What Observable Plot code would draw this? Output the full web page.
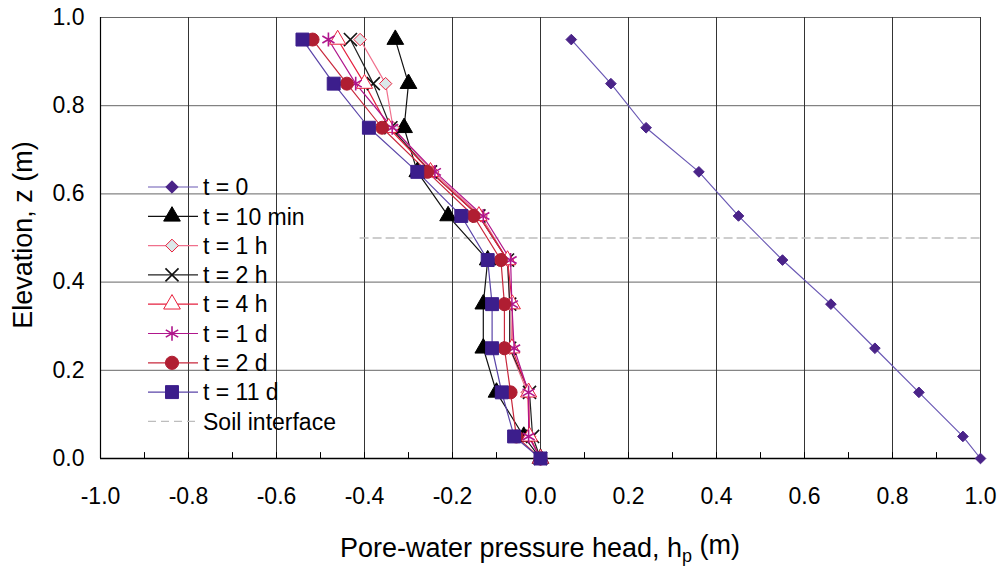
<!DOCTYPE html>
<html><head><meta charset="utf-8">
<script src="https://cdn.jsdelivr.net/npm/d3@7"></script>
<script src="https://cdn.jsdelivr.net/npm/@observablehq/plot@0.6"></script>
<style>body{margin:0;background:#fff} #chart{width:1000px;height:567px}</style>
</head><body><div id="chart"></div>
<script>
// ---- data ----
const elevation = [0.95, 0.85, 0.75, 0.65, 0.55, 0.45, 0.35, 0.25, 0.15, 0.05, 0.0];
const h_t0    = [0.07, 0.16, 0.24, 0.36, 0.45, 0.55, 0.66, 0.76, 0.86, 0.96, 1.0];
const h_10min = [-0.33, -0.30, -0.31, -0.28, -0.21, -0.12, -0.13, -0.13, -0.10, -0.038, 0];
const h_1h    = [-0.41, -0.352, -0.335, -0.245, -0.135, -0.075, -0.07, -0.07, -0.03, -0.025, 0];
const h_2h    = [-0.432, -0.38, -0.34, -0.25, -0.14, -0.075, -0.07, -0.07, -0.025, -0.018, 0];
const h_4h    = [-0.461, -0.40, -0.345, -0.25, -0.14, -0.075, -0.064, -0.065, -0.027, -0.025, 0];
const h_1d    = [-0.482, -0.42, -0.337, -0.24, -0.13, -0.068, -0.065, -0.06, -0.027, -0.027, 0];
const h_2d    = [-0.518, -0.44, -0.36, -0.257, -0.152, -0.09, -0.082, -0.082, -0.068, -0.055, 0];
const h_11d   = [-0.541, -0.47, -0.39, -0.28, -0.18, -0.12, -0.11, -0.11, -0.088, -0.06, 0];
const seriesLabels = ["t = 0", "t = 10 min", "t = 1 h", "t = 2 h", "t = 4 h", "t = 1 d", "t = 2 d", "t = 11 d"];
const interfaceLabel = "Soil interface";
const interfaceElevation = [0.5];
const interfaceExtent = [-0.41, 1.0];
const xTicks = [-1.0, -0.8, -0.6, -0.4, -0.2, 0.0, 0.2, 0.4, 0.6, 0.8, 1.0];
const xMinorTicks = [-0.9, -0.8, -0.7, -0.6, -0.5, -0.4, -0.3, -0.2, -0.1, 0.0, 0.1, 0.2, 0.3, 0.4, 0.5, 0.6, 0.7, 0.8, 0.9];
const yTicks = [0.0, 0.2, 0.4, 0.6, 0.8, 1.0];

// ---- styles ----
const seriesValues = [h_t0, h_10min, h_1h, h_2h, h_4h, h_1d, h_2d, h_11d];
const styles = [
  {line: "#6a58b4", symbol: "diamond2", fill: "#4a2388", stroke: "#4a2388", r: 4.8, lr: 5.6},
  {line: "#111111", symbol: "triangle", fill: "#000000", stroke: "#000000", r: 6.2, lr: 6.2},
  {line: "#f0708c", symbol: "diamond2", fill: "#dbe9ea", stroke: "#e8203c", r: 5.6, lr: 5.8},
  {line: "#222222", symbol: "times", fill: "none", stroke: "#111111", r: 6, lr: 6},
  {line: "#e5203f", symbol: "triangle", fill: "#ffffff", stroke: "#e8203c", r: 6, lr: 6.2},
  {line: "#b0168c", symbol: "asterisk", fill: "none", stroke: "#b0168c", r: 6.6, lr: 6.8},
  {line: "#c8283c", symbol: "circle", fill: "#b01e32", stroke: "#b01e32", r: 6.5, lr: 6.6},
  {line: "#5a44a8", symbol: "square", fill: "#3c1e8c", stroke: "#3c1e8c", r: 7.3, lr: 7.3}
];
const font = "Liberation Sans, Arial, Helvetica, sans-serif";

const series = seriesLabels.map((label, i) => ({
  label,
  style: styles[i],
  rows: elevation.map((z, j) => ({z, h: seriesValues[i][j]}))
}));
const interfaceRows = interfaceExtent.map(h => ({h, z: interfaceElevation[0]}));

const tickShape = {draw(context, l) { context.moveTo(0, 0); context.lineTo(0, -l); }};

const marks = [
  Plot.gridX(xTicks.filter(d => d > -1), {stroke: "#111", strokeOpacity: 0.85, strokeWidth: 1}),
  Plot.gridY(yTicks.filter(d => d > 0), {stroke: "#333", strokeOpacity: 0.75, strokeWidth: 1}),
  Plot.line(interfaceRows, {x: "h", y: "z", stroke: "#bdbdbd", strokeWidth: 1.4, strokeDasharray: "8,5"}),
  Plot.ruleX([-1], {stroke: "#000", strokeWidth: 1.2}),
  Plot.ruleY([0], {stroke: "#000", strokeWidth: 1.5}),
  Plot.vector(xMinorTicks, {x: d => d, y: 0, length: 6, rotate: 0, anchor: "start", shape: tickShape, stroke: "#000", strokeWidth: 1})
];
for (const s of series) {
  marks.push(Plot.line(s.rows, {x: "h", y: "z", stroke: s.style.line, strokeWidth: 1.2}));
}
for (const s of series) {
  marks.push(Plot.dot(s.rows, {x: "h", y: "z", symbol: s.style.symbol, r: s.style.r,
    fill: s.style.fill, stroke: s.style.stroke, strokeWidth: s.style.fill === "none" ? 1.6 : 1}));
}
marks.push(
  Plot.axisY({ticks: yTicks, tickSize: 0, tickPadding: 16, tickFormat: d => d.toFixed(1), fontSize: 23, label: null}),
  Plot.axisX({ticks: xTicks, tickSize: 0, tickPadding: 29, tickFormat: d => d.toFixed(1), fontSize: 23, label: null})
);

const chart = Plot.plot({
  width: 1000, height: 567,
  marginTop: 17, marginBottom: 109, marginLeft: 100, marginRight: 20,
  style: {fontFamily: font, color: "#000", background: "#fff", overflow: "visible"},
  x: {domain: [-1, 1]},
  y: {domain: [0, 1]},
  marks
});
document.getElementById("chart").appendChild(chart);

// ---- axis titles and legend ----
const svg = d3.select(chart);
svg.append("text")
  .attr("transform", "translate(23,235) rotate(-90)")
  .attr("text-anchor", "middle").attr("dy", "0.35em")
  .style("font-family", font).style("font-size", "27px").attr("fill", "#000")
  .text("Elevation, z (m)");
const xt = svg.append("text")
  .attr("x", 540).attr("y", 557).attr("text-anchor", "middle")
  .style("font-family", font).style("font-size", "27px").attr("fill", "#000");
xt.append("tspan").text("Pore-water pressure head, h");
xt.append("tspan").attr("dy", "0.3em").style("font-size", "18px").text("p");
xt.append("tspan").attr("dy", "-0.3em").text(" (m)");

const symbolMap = {
  diamond2: d3.symbolDiamond2 || d3.symbolDiamond,
  triangle: d3.symbolTriangle,
  times: d3.symbolTimes || d3.symbolCross,
  asterisk: d3.symbolAsterisk || d3.symbolStar,
  circle: d3.symbolCircle,
  square: d3.symbolSquare
};
const lg = svg.append("g").attr("transform", "translate(148,187)").attr("text-anchor", "start");
const rowH = 29.3;
series.forEach((s, i) => {
  const g = lg.append("g").attr("transform", `translate(0,${i * rowH})`);
  g.append("line").attr("x1", 0).attr("x2", 50).attr("stroke", s.style.line).attr("stroke-width", 1.2);
  g.append("path")
    .attr("transform", "translate(24,0)")
    .attr("d", d3.symbol(symbolMap[s.style.symbol], Math.PI * s.style.lr * s.style.lr)())
    .attr("fill", s.style.fill).attr("stroke", s.style.stroke)
    .attr("stroke-width", s.style.fill === "none" ? 1.6 : 1);
  g.append("text").attr("x", 55).attr("dy", "0.36em").attr("text-anchor", "start")
    .style("font-family", font).style("font-size", "23px").attr("fill", "#000").text(s.label);
});
const gi = lg.append("g").attr("transform", `translate(0,${series.length * rowH})`);
gi.append("line").attr("x1", 0).attr("x2", 50).attr("stroke", "#bdbdbd").attr("stroke-width", 1.4).attr("stroke-dasharray", "8,5");
gi.append("text").attr("x", 55).attr("dy", "0.36em").attr("text-anchor", "start")
  .style("font-family", font).style("font-size", "23px").attr("fill", "#000").text(interfaceLabel);
</script>
</body></html>
